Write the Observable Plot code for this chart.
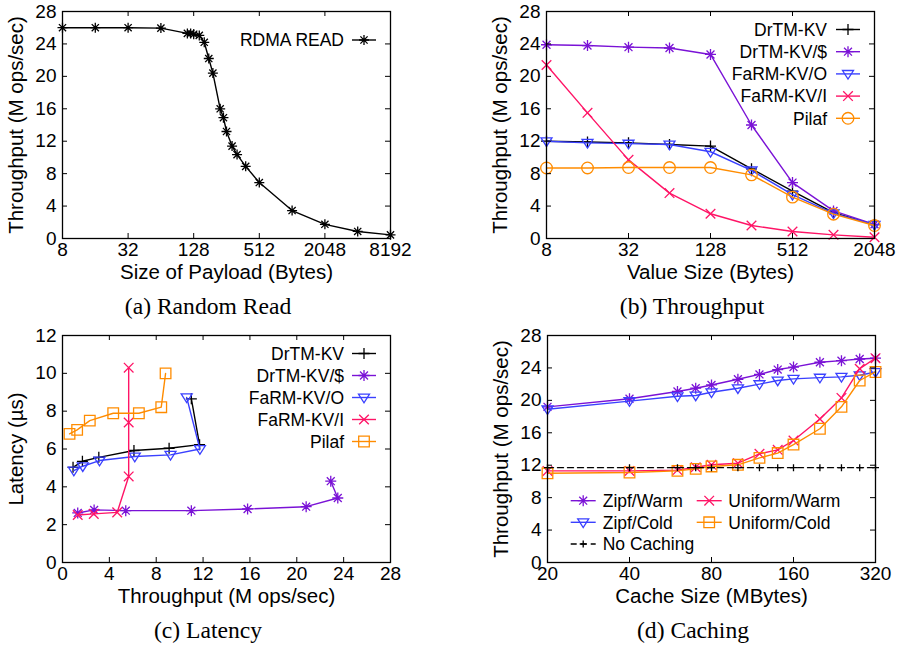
<!DOCTYPE html>
<html><head><meta charset="utf-8">
<script src="https://cdn.jsdelivr.net/npm/d3@7"></script>
<script src="https://cdn.jsdelivr.net/npm/@observablehq/plot@0.6"></script>
<style>
body{margin:0;background:#fff;}
#root{position:relative;width:902px;height:645px;overflow:hidden;background:#fff;}
.panel{position:absolute;}
</style></head><body><div id="root"></div>
<script>
// ---------------- DATA ----------------
// (a) Random Read
const payloadSizes = [8,16,32,64,112,120,128,144,160,176,192,224,240,256,288,320,384,512,1024,2048,4096,8192];
const rdmaRead     = [26.0,26.0,26.0,25.95,25.3,25.3,25.2,25.05,24.2,22.2,20.4,16.0,14.9,13.2,11.4,10.35,8.9,6.9,3.45,1.75,0.87,0.45];
const aXTicks = [8,32,128,512,2048,8192];

// (b) Throughput
const valueSizes = [8,16,32,64,128,256,512,1024,2048];
const bDrTM      = [12.0,11.9,11.8,11.6,11.4,8.6,5.85,3.2,1.7];
const bDrTMCache = [23.9,23.8,23.6,23.5,22.7,14.0,6.9,3.4,1.75];
const bFaRMO     = [12.0,11.8,11.7,11.6,10.7,8.4,5.4,3.1,1.7];
const bFaRMI     = [21.4,15.5,9.7,5.6,3.05,1.6,0.86,0.45,0.15];
const bPilaf     = [8.7,8.7,8.75,8.75,8.75,7.85,5.1,3.0,1.6];
const bXTicks = [8,32,128,512,2048];

// (c) Latency  (x = throughput, y = latency)
const cDrTMX      = [0.9,1.7,3.1,6.1,9.1,11.7,11.0];
const cDrTMY      = [5.03,5.35,5.56,5.92,6.04,6.23,8.65];
const cDrTMCacheX = [1.3,2.7,5.4,11.0,15.8,20.8,23.5,22.9];
const cDrTMCacheY = [2.62,2.78,2.74,2.74,2.83,2.95,3.41,4.3];
const cFaRMOX     = [0.97,1.73,3.16,6.17,9.22,11.73,10.6];
const cFaRMOY     = [4.86,5.09,5.39,5.6,5.69,6.0,8.73];
const cFaRMIX     = [1.3,2.67,4.67,5.65,5.65,5.65];
const cFaRMIY     = [2.51,2.57,2.65,4.55,7.4,10.3];
const cPilafX     = [0.6,1.25,2.33,4.33,6.52,8.43,8.8];
const cPilafY     = [6.8,7.01,7.5,7.89,7.89,8.21,10.0];
const cXTicks = [0,4,8,12,16,20,24,28];
const cYTicks = [0,2,4,6,8,10,12];

// (d) Caching
const cacheSizes  = [20,40,60,70,80,100,120,140,160,200,240,280,320];
const dZipfWarm   = [19.2,20.2,21.1,21.5,21.9,22.6,23.2,23.8,24.1,24.7,24.9,25.1,25.2];
const dZipfCold   = [18.9,19.9,20.5,20.6,21.0,21.5,22.0,22.45,22.65,22.8,22.9,23.1,23.5];
const dUniWarm    = [11.3,11.3,11.4,11.75,12.05,12.25,13.4,13.9,15.05,17.7,20.3,23.9,25.2];
const dUniCold    = [11.0,11.1,11.3,11.55,11.85,12.05,12.9,13.5,14.55,16.5,19.2,22.45,23.5];
const dNoCache    = [11.7,11.7,11.7,11.7,11.7,11.7,11.7,11.7,11.7,11.7,11.7,11.7,11.7];
const dXTicks = [20,40,80,160,320];

const thrTicks = [0,4,8,12,16,20,24,28];

// ---------------- STYLE ----------------
const SANS = "'Liberation Sans', Arial, Helvetica, sans-serif";
const SERIF = "'Liberation Serif', 'Times New Roman', serif";
const C = {black:"#000000", purple:"#7a12d6", blue:"#3a40ff", pink:"#ff1466", orange:"#ff8c00"};

function segSymbol(segs){return {draw(ctx,size){const r=Math.sqrt(size/Math.PI);for(const [a,b,c,d] of segs){ctx.moveTo(a*r,b*r);ctx.lineTo(c*r,d*r);}}};}
const symStar  = segSymbol([[-1,0,1,0],[0,-1,0,1],[-.72,-.72,.72,.72],[-.72,.72,.72,-.72]]);
const symPlus  = segSymbol([[-1,0,1,0],[0,-1,0,1]]);
const symTimes = segSymbol([[-.8,-.8,.8,.8],[-.8,.8,.8,-.8]]);
const symTri   = {draw(ctx,size){const r=Math.sqrt(size/Math.PI);ctx.moveTo(-r,-.62*r);ctx.lineTo(r,-.62*r);ctx.lineTo(0,.95*r);ctx.closePath();}};
const symSquare= {draw(ctx,size){const r=Math.sqrt(size/Math.PI);ctx.rect(-r,-r,2*r,2*r);}};
const symCircle= {draw(ctx,size){const r=Math.sqrt(size/Math.PI);ctx.moveTo(r,0);ctx.arc(0,0,r,0,2*Math.PI);}};

function makePanel(cfg){
  const {left, top, width, height, margin} = cfg;
  const innerW = width - margin.left - margin.right;
  const innerH = height - margin.top - margin.bottom;
  const T = 5;
  const marks = [];
  for (const s of cfg.series){
    const data = s.xs.map((xv,i)=>({x:xv, y:s.ys[i]}));
    marks.push(Plot.line(data,{x:"x",y:"y",stroke:s.color,strokeWidth:1.4,strokeDasharray:s.dash}));
    marks.push(Plot.dot(data,{x:"x",y:"y",symbol:s.symbol,r:s.r,stroke:s.color,fill:"none",strokeWidth:1.3}));
  }
  marks.push(
    Plot.tickX(cfg.xTicks,{x:d=>d,insetTop:innerH-T,stroke:"#000",strokeWidth:1}),
    Plot.tickX(cfg.xTicks,{x:d=>d,insetBottom:innerH-T,stroke:"#000",strokeWidth:1}),
    Plot.tickY(cfg.yTicks,{y:d=>d,insetLeft:innerW-T,stroke:"#000",strokeWidth:1}),
    Plot.tickY(cfg.yTicks,{y:d=>d,insetRight:innerW-T,stroke:"#000",strokeWidth:1}),
    Plot.frame({stroke:"#000",strokeWidth:1.3}),
    Plot.axisX({ticks:cfg.xTicks,tickSize:0,tickPadding:4,tickFormat:d=>String(d),label:null,fontSize:19}),
    Plot.axisY({ticks:cfg.yTicks,tickSize:0,tickPadding:6,tickFormat:d=>String(d),label:null,fontSize:19}),
    Plot.text([cfg.xLabel],{frameAnchor:"bottom",textAnchor:"middle",dy:40,lineAnchor:"bottom",fontSize:20.5}),
    Plot.text([cfg.yLabel],{frameAnchor:"left",textAnchor:"middle",rotate:-90,dx:-40,lineAnchor:"bottom",fontSize:20.5}),
    Plot.text([cfg.caption],{frameAnchor:"bottom",textAnchor:"middle",dx:-18.5,dy:75,lineAnchor:"bottom",fontSize:23.6,fontFamily:SERIF})
  );
  const svg = Plot.plot({
    width, height,
    marginLeft:margin.left, marginRight:margin.right, marginTop:margin.top, marginBottom:margin.bottom,
    x:cfg.x, y:cfg.y,
    style:{fontFamily:SANS,fontSize:"19px",color:"#000",background:"#fff",overflow:"visible"},
    marks
  });
  // legend (decoration)
  const g = d3.select(svg).append("g").attr("font-family",SANS).attr("font-size",17.5).attr("fill","#000");
  for (const it of cfg.legend){
    const s = cfg.series.find(d=>d.name===it.name);
    g.append("line").attr("x1",it.l1).attr("x2",it.l2).attr("y1",it.y).attr("y2",it.y)
      .attr("stroke",s.color).attr("stroke-width",1.4).attr("stroke-dasharray",s.dash||null);
    g.append("path").attr("transform",`translate(${(it.l1+it.l2)/2},${it.y})`)
      .attr("d",d3.symbol(s.symbol,Math.PI*s.r*s.r)()).attr("fill","none").attr("stroke",s.color).attr("stroke-width",1.3);
    g.append("text").attr("x",it.tx).attr("y",it.y).attr("dy","0.36em").attr("text-anchor",it.anchor).text(s.name);
  }
  const div = document.createElement("div");
  div.className = "panel";
  div.style.left = left+"px"; div.style.top = top+"px";
  div.style.width = width+"px"; div.style.height = height+"px";
  div.appendChild(svg);
  document.getElementById("root").appendChild(div);
}

// (a)
makePanel({
  left:0, top:0, width:451, height:322, margin:{left:62,right:61,top:11,bottom:84},
  x:{type:"log",base:2,domain:[8,8192]}, y:{domain:[0,28]},
  xTicks:aXTicks, yTicks:thrTicks,
  xLabel:"Size of Payload (Bytes)", yLabel:"Throughput (M ops/sec)", caption:"(a) Random Read",
  series:[{name:"RDMA READ",xs:payloadSizes,ys:rdmaRead,color:C.black,symbol:symStar,r:5}],
  legend:[{name:"RDMA READ",y:40,l1:352,l2:376,tx:344,anchor:"end"}]
});

// (b)
const bNames = ["DrTM-KV","DrTM-KV/$","FaRM-KV/O","FaRM-KV/I","Pilaf"];
makePanel({
  left:451, top:0, width:451, height:322, margin:{left:95,right:28,top:11,bottom:84},
  x:{type:"log",base:2,domain:[8,2048]}, y:{domain:[0,28]},
  xTicks:bXTicks, yTicks:thrTicks,
  xLabel:"Value Size (Bytes)", yLabel:"Throughput (M ops/sec)", caption:"(b) Throughput",
  series:[
    {name:"DrTM-KV",  xs:valueSizes,ys:bDrTM,     color:C.black, symbol:symPlus,  r:5.5},
    {name:"DrTM-KV/$",xs:valueSizes,ys:bDrTMCache,color:C.purple,symbol:symStar,  r:5.5},
    {name:"FaRM-KV/O",xs:valueSizes,ys:bFaRMO,    color:C.blue,  symbol:symTri,   r:5.5},
    {name:"FaRM-KV/I",xs:valueSizes,ys:bFaRMI,    color:C.pink,  symbol:symTimes, r:6},
    {name:"Pilaf",    xs:valueSizes,ys:bPilaf,    color:C.orange,symbol:symCircle,r:5.8}
  ],
  legend:bNames.map((n,i)=>({name:n,y:29.5+i*22.2,l1:385,l2:409,tx:376,anchor:"end"}))
});

// (c)
makePanel({
  left:0, top:322, width:451, height:323, margin:{left:62,right:61,top:13,bottom:83},
  x:{domain:[0,28]}, y:{domain:[0,12]},
  xTicks:cXTicks, yTicks:cYTicks,
  xLabel:"Throughput (M ops/sec)", yLabel:"Latency (\u00b5s)", caption:"(c) Latency",
  series:[
    {name:"DrTM-KV",  xs:cDrTMX,     ys:cDrTMY,     color:C.black, symbol:symPlus,  r:5.5},
    {name:"DrTM-KV/$",xs:cDrTMCacheX,ys:cDrTMCacheY,color:C.purple,symbol:symStar,  r:5.5},
    {name:"FaRM-KV/O",xs:cFaRMOX,    ys:cFaRMOY,    color:C.blue,  symbol:symTri,   r:5.5},
    {name:"FaRM-KV/I",xs:cFaRMIX,    ys:cFaRMIY,    color:C.pink,  symbol:symTimes, r:6},
    {name:"Pilaf",    xs:cPilafX,    ys:cPilafY,    color:C.orange,symbol:symSquare,r:5.3}
  ],
  legend:bNames.map((n,i)=>({name:n,y:31.5+i*22,l1:352,l2:376,tx:344,anchor:"end"}))
});

// (d)
makePanel({
  left:451, top:322, width:451, height:323, margin:{left:96,right:27,top:13,bottom:83},
  x:{type:"log",base:2,domain:[20,320]}, y:{domain:[0,28]},
  xTicks:dXTicks, yTicks:thrTicks,
  xLabel:"Cache Size (MBytes)", yLabel:"Throughput (M ops/sec)", caption:"(d) Caching",
  series:[
    {name:"Zipf/Warm",   xs:cacheSizes,ys:dZipfWarm,color:C.purple,symbol:symStar,  r:5.5},
    {name:"Zipf/Cold",   xs:cacheSizes,ys:dZipfCold,color:C.blue,  symbol:symTri,   r:5.5},
    {name:"Uniform/Warm",xs:cacheSizes,ys:dUniWarm, color:C.pink,  symbol:symTimes, r:6},
    {name:"Uniform/Cold",xs:cacheSizes,ys:dUniCold, color:C.orange,symbol:symSquare,r:5.3},
    {name:"No Caching",  xs:cacheSizes,ys:dNoCache, color:C.black, symbol:symPlus,  r:3.5, dash:"6,4"}
  ],
  legend:[
    {name:"Zipf/Warm",   y:178.7,l1:119.7,l2:144.7,tx:151.7,anchor:"start"},
    {name:"Zipf/Cold",   y:200.3,l1:119.7,l2:144.7,tx:151.7,anchor:"start"},
    {name:"No Caching",  y:222,  l1:119.7,l2:144.7,tx:151.7,anchor:"start"},
    {name:"Uniform/Warm",y:178.7,l1:245.7,l2:270.7,tx:277.3,anchor:"start"},
    {name:"Uniform/Cold",y:200.3,l1:245.7,l2:270.7,tx:277.3,anchor:"start"}
  ]
});
</script></body></html>
